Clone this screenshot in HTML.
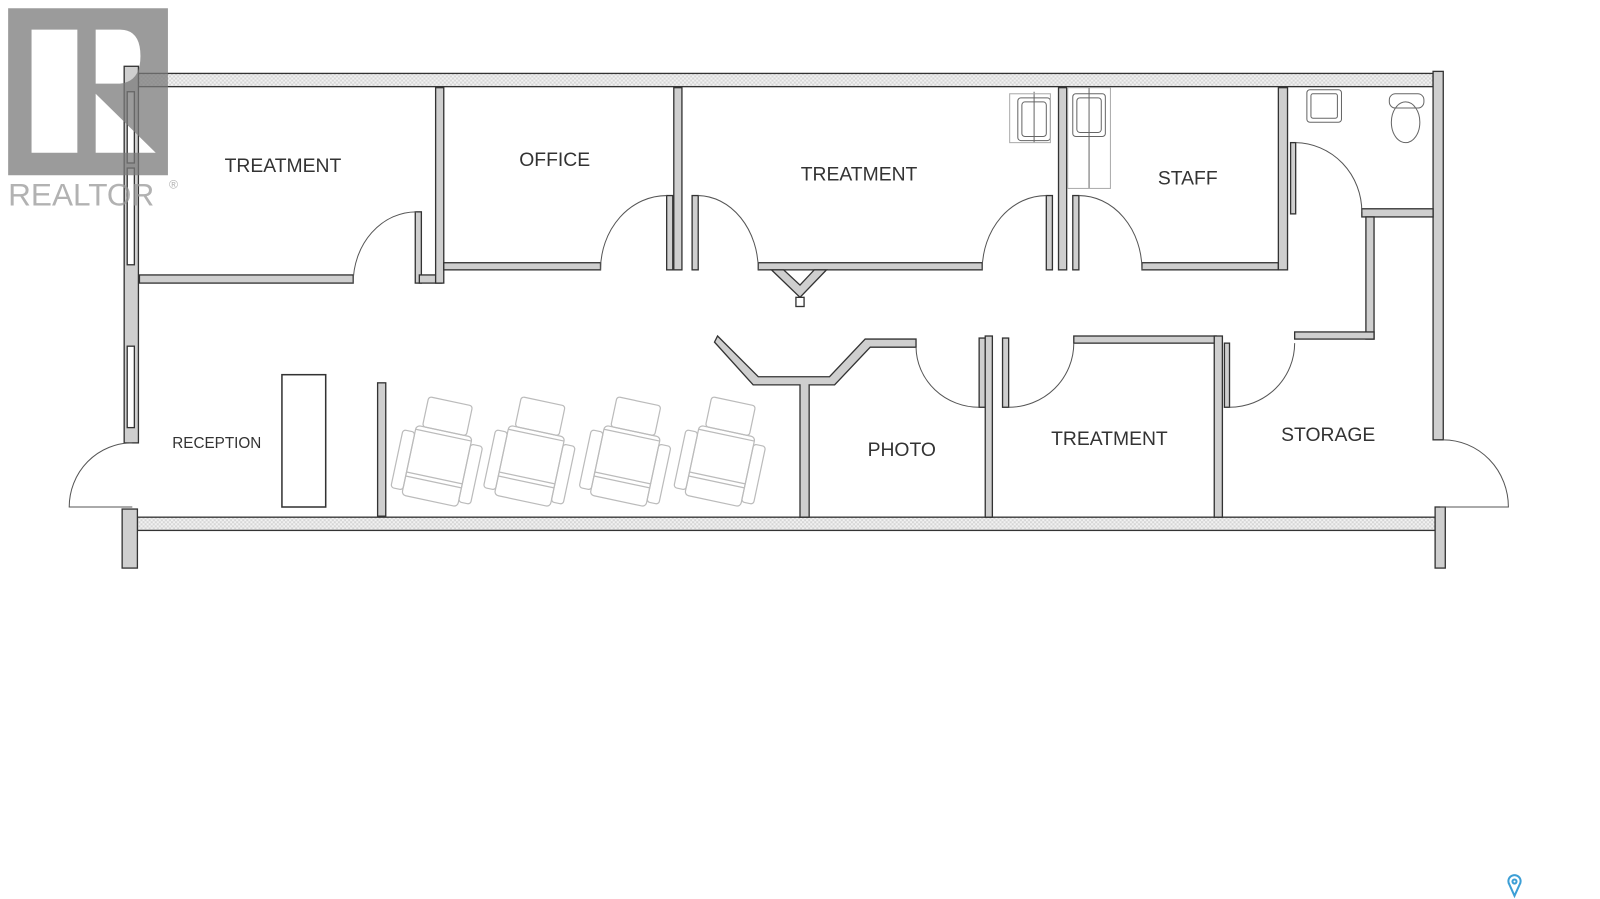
<!DOCTYPE html>
<html><head><meta charset="utf-8"><style>
html,body{margin:0;padding:0;background:#fff;}
svg{display:block;}
text{font-family:"Liberation Sans",sans-serif;fill:#333;}
</style></head><body>
<svg width="1600" height="899" viewBox="0 0 1572 883" xmlns="http://www.w3.org/2000/svg">
<defs>
<pattern id="h" width="4" height="4" patternUnits="userSpaceOnUse">
<rect width="4" height="4" fill="#f2f2f2"/><rect width="2" height="2" fill="#d6d6d6"/><rect x="2" y="2" width="2" height="2" fill="#d6d6d6"/>
</pattern>
</defs>
<g stroke="#333" stroke-width="1.3" fill="#cfcfcf">
<rect x="136" y="72" width="1272" height="13" fill="url(#h)"/>
<rect x="135" y="508" width="1275" height="13" fill="url(#h)"/>
<rect x="122" y="65" width="14" height="370"/>
<rect x="125" y="90" width="7" height="70" fill="#fff"/>
<rect x="125" y="165" width="7" height="95" fill="#fff"/>
<rect x="125" y="340" width="7" height="80" fill="#fff"/>
<rect x="120" y="500" width="15" height="58"/>
<rect x="1408" y="70" width="10" height="362"/>
<rect x="1410" y="498" width="10" height="60"/>
<rect x="137" y="270" width="210" height="8"/>
<rect x="408" y="208" width="6" height="70"/>
<rect x="412" y="270" width="22" height="8"/>
<rect x="428" y="86" width="8" height="192"/>
<rect x="436" y="258" width="154" height="7"/>
<rect x="655" y="192" width="6" height="73"/>
<rect x="662" y="86" width="8" height="179"/>
<rect x="680" y="192" width="6" height="73"/>
<rect x="745" y="258" width="220" height="7"/>
<path d="M758 265 L786 292 L812 265 L800 265 L786 280 L770 265 Z"/>
<rect x="782" y="292" width="8" height="9" fill="#fff"/>
<rect x="1028" y="192" width="6" height="73"/>
<rect x="1040" y="86" width="8" height="179"/>
<rect x="1054" y="192" width="6" height="73"/>
<rect x="1122" y="258" width="134" height="7"/>
<rect x="1256" y="86" width="9" height="179"/>
<rect x="1268" y="140" width="5" height="70"/>
<rect x="1338" y="205" width="70" height="8"/>
<rect x="1342" y="213" width="8" height="120"/>
<rect x="1272" y="326" width="78" height="7"/>
<path d="M705 330 L745 370 L815 370 L850 333 L900 333 L900 341 L855 341 L820 378 L795 378 L795 508 L786 508 L786 378 L740 378 L702 336 Z"/>
<rect x="962" y="332" width="6" height="68"/>
<rect x="968" y="330" width="7" height="178"/>
<rect x="985" y="332" width="6" height="68"/>
<rect x="1055" y="330" width="140" height="7"/>
<rect x="1193" y="330" width="8" height="178"/>
<rect x="1203" y="337" width="5" height="63"/>
<rect x="277" y="368" width="43" height="130" fill="#fff" stroke-width="1.5"/>
<rect x="371" y="376" width="8" height="131"/>
</g>
<g fill="none" stroke="#555" stroke-width="1">
<path d="M347 278 A62 70 0 0 1 409 208"/>
<path d="M590 265 A65 73 0 0 1 655 192"/>
<path d="M745 265 A60 73 0 0 0 686 192"/>
<path d="M965 265 A63 73 0 0 1 1028 192"/>
<path d="M1122 265 A62 73 0 0 0 1060 192"/>
<path d="M1273 140 A66 68 0 0 1 1338 208"/>
<path d="M900 341 A62 60 0 0 0 962 400"/>
<path d="M1055 337 A64 63 0 0 1 991 400"/>
<path d="M1272 337 A64 63 0 0 1 1208 400"/>
<path d="M1418 432 A64 66 0 0 1 1482 498 L1415 498"/>
<path d="M130 435 A62 63 0 0 0 68 498 L130 498"/>
</g>
<g fill="none" stroke="#666" stroke-width="1">
<rect x="1000" y="96" width="32" height="42" rx="3"/><rect x="1004" y="100" width="24" height="34" rx="3"/>
<line x1="1016" y1="90" x2="1016" y2="140"/><rect x="992" y="92" width="40" height="48" stroke="#aaa"/>
<rect x="1054" y="92" width="32" height="42" rx="3"/><rect x="1058" y="96" width="24" height="34" rx="3"/>
<line x1="1070" y1="86" x2="1070" y2="185"/><rect x="1049" y="86" width="42" height="99" stroke="#aaa"/>
<rect x="1284" y="88" width="34" height="32" rx="3"/><rect x="1288" y="92" width="26" height="24" rx="2"/>
<rect x="1365" y="92" width="34" height="14" rx="6"/><ellipse cx="1381" cy="120" rx="14" ry="20"/>
</g>
<g fill="none" stroke="#bbb" stroke-width="1.2">
<g transform="translate(432,445) rotate(12)"><rect x="-22" y="-52" width="44" height="30" rx="3"/><rect x="-28" y="-22" width="56" height="70" rx="4"/><rect x="-40" y="-15" width="12" height="58" rx="3"/><rect x="28" y="-15" width="12" height="58" rx="3"/><line x1="-28" y1="-18" x2="28" y2="-18"/><line x1="-28" y1="25" x2="28" y2="25"/><line x1="-28" y1="29" x2="28" y2="29"/></g>
<g transform="translate(523,445) rotate(12)"><rect x="-22" y="-52" width="44" height="30" rx="3"/><rect x="-28" y="-22" width="56" height="70" rx="4"/><rect x="-40" y="-15" width="12" height="58" rx="3"/><rect x="28" y="-15" width="12" height="58" rx="3"/><line x1="-28" y1="-18" x2="28" y2="-18"/><line x1="-28" y1="25" x2="28" y2="25"/><line x1="-28" y1="29" x2="28" y2="29"/></g>
<g transform="translate(617,445) rotate(12)"><rect x="-22" y="-52" width="44" height="30" rx="3"/><rect x="-28" y="-22" width="56" height="70" rx="4"/><rect x="-40" y="-15" width="12" height="58" rx="3"/><rect x="28" y="-15" width="12" height="58" rx="3"/><line x1="-28" y1="-18" x2="28" y2="-18"/><line x1="-28" y1="25" x2="28" y2="25"/><line x1="-28" y1="29" x2="28" y2="29"/></g>
<g transform="translate(710,445) rotate(12)"><rect x="-22" y="-52" width="44" height="30" rx="3"/><rect x="-28" y="-22" width="56" height="70" rx="4"/><rect x="-40" y="-15" width="12" height="58" rx="3"/><rect x="28" y="-15" width="12" height="58" rx="3"/><line x1="-28" y1="-18" x2="28" y2="-18"/><line x1="-28" y1="25" x2="28" y2="25"/><line x1="-28" y1="29" x2="28" y2="29"/></g>
</g>
<g font-size="19" text-anchor="middle">
<text x="278" y="169">TREATMENT</text>
<text x="545" y="163">OFFICE</text>
<text x="844" y="177">TREATMENT</text>
<text x="1167" y="181">STAFF</text>
<text x="886" y="448">PHOTO</text>
<text x="1090" y="437">TREATMENT</text>
<text x="1305" y="433">STORAGE</text>
<text x="213" y="440" font-size="15">RECEPTION</text>
</g>
<g opacity="0.75">
<path fill="#7a7a7a" fill-rule="evenodd" d="M8 8 H165 V172 H8 Z M31 29 V150 H76 V29 Z M94 29 V150 H153 L94 92 V150 Z M94 29 H118 Q138 29 138 55 Q138 80 118 82 H94 Z"/>
<text x="8" y="202" font-size="31" style="fill:#999">REALTOR</text>
<text x="166" y="185" font-size="12" style="fill:#999">®</text>
</g>
<g fill="none" stroke="#3d9fd6" stroke-width="2"><path d="M1488 880 L1483 869 A6 6 0 1 1 1493 869 Z"/><circle cx="1488" cy="866" r="2"/></g>
</svg>
</body></html>
